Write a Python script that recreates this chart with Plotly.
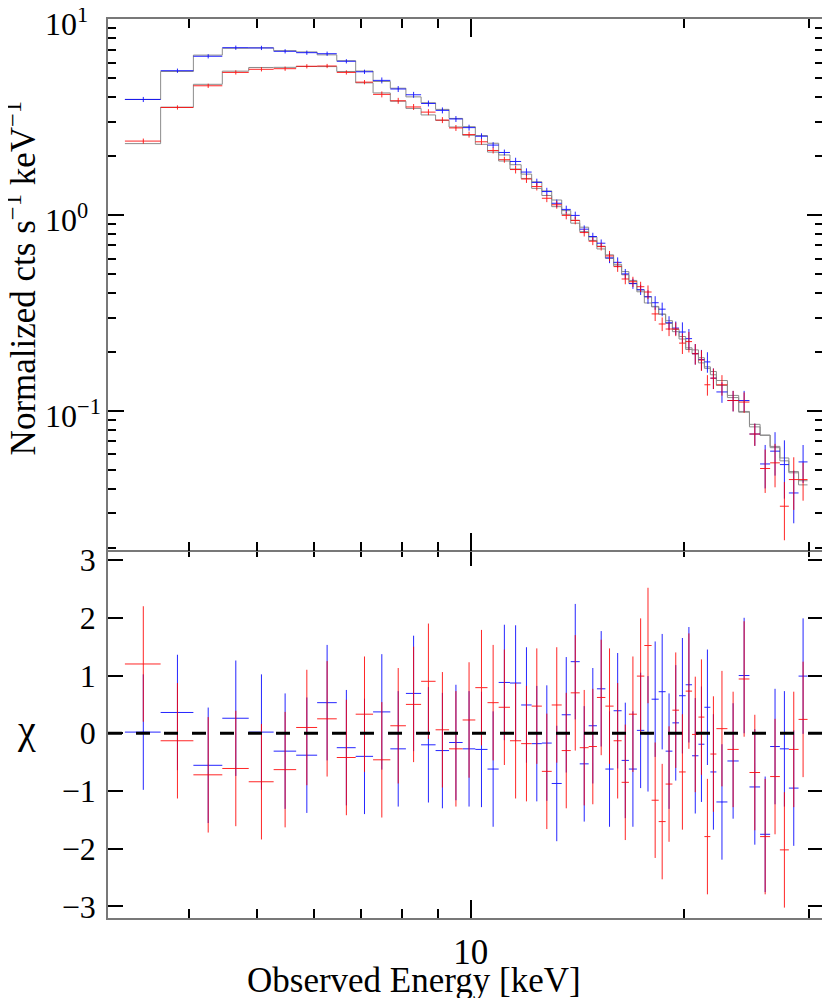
import math
import plotly.graph_objects as go

# energy bin edges (keV), shared by both spectra
edges = [3.25, 3.65, 4.06, 4.46, 4.86, 5.27, 5.67, 6.07, 6.47, 6.88,
         7.28, 7.70, 8.10, 8.51, 8.92, 9.32, 9.74, 10.15, 10.56, 10.95,
         11.36, 11.78, 12.19, 12.60, 13.01, 13.44, 13.84, 14.25, 14.67, 15.07,
         15.49, 15.91, 16.33, 16.72, 17.16, 17.58, 18.00, 18.42, 18.84, 19.26,
         19.68, 20.11, 20.53, 20.96, 21.37, 21.79, 22.22, 23.03, 23.89, 24.74,
         25.61, 26.46, 27.31, 28.12, 29.02, 29.88]

# normalized counts s^-1 keV^-1
blue_rate = [3.90, 5.47, 6.48, 7.17, 7.15, 6.87, 6.76, 6.68, 6.11, 5.40,
             4.88, 4.41, 4.12, 3.72, 3.43, 3.10, 2.80, 2.53, 2.28, 2.09,
             1.88, 1.66, 1.47, 1.32, 1.15, 1.07, 0.997, 0.848, 0.778, 0.719,
             0.605, 0.574, 0.501, 0.447, 0.416, 0.383, 0.357, 0.331, 0.282, 0.265,
             0.253, 0.234, 0.196, 0.183, 0.178, 0.147, 0.125, 0.113, 0.113, 0.0762,
             0.0536, 0.0623, 0.0532, 0.0381, 0.0549]
blue_model = [3.90, 5.42, 6.57, 7.12, 7.15, 6.92, 6.82, 6.59, 6.15, 5.45,
              4.82, 4.45, 4.02, 3.75, 3.47, 3.12, 2.83, 2.55, 2.33, 2.03,
              1.81, 1.62, 1.48, 1.33, 1.195, 1.055, 0.941, 0.868, 0.773, 0.694,
              0.627, 0.561, 0.515, 0.464, 0.415, 0.383, 0.340, 0.312, 0.289, 0.261,
              0.233, 0.210, 0.205, 0.187, 0.168, 0.159, 0.143, 0.120, 0.0994, 0.0854,
              0.0750, 0.0659, 0.0575, 0.0490, 0.0440]
red_rate = [2.39, 3.55, 4.58, 5.36, 5.56, 5.60, 5.76, 5.78, 5.36, 4.78,
            4.14, 3.84, 3.57, 3.36, 3.06, 2.79, 2.58, 2.37, 2.14, 1.92,
            1.71, 1.53, 1.40, 1.22, 1.13, 0.997, 0.940, 0.815, 0.736, 0.691,
            0.619, 0.546, 0.472, 0.457, 0.431, 0.405, 0.313, 0.278, 0.262, 0.262,
            0.222, 0.226, 0.196, 0.182, 0.136, 0.147, 0.136, 0.113, 0.111, 0.0762,
            0.0508, 0.0543, 0.0326, 0.0446, 0.0446]
red_model = [2.32, 3.56, 4.66, 5.44, 5.68, 5.69, 5.75, 5.74, 5.42, 4.74,
             4.21, 3.82, 3.51, 3.25, 3.05, 2.82, 2.56, 2.30, 2.10, 1.89,
             1.72, 1.54, 1.37, 1.26, 1.105, 1.01, 0.910, 0.824, 0.743, 0.672,
             0.602, 0.550, 0.496, 0.448, 0.406, 0.356, 0.342, 0.312, 0.280, 0.254,
             0.240, 0.206, 0.196, 0.176, 0.165, 0.153, 0.135, 0.117, 0.0985, 0.0829,
             0.0753, 0.0649, 0.0556, 0.0483, 0.0419]
# fractional 1-sigma errors per bin
rel_err = [0.03, 0.025, 0.025, 0.025, 0.025, 0.025, 0.025, 0.025, 0.025, 0.025,
           0.035, 0.035, 0.035, 0.035, 0.035, 0.035, 0.035, 0.035, 0.035, 0.035,
           0.045, 0.045, 0.045, 0.045, 0.045, 0.045, 0.045, 0.045, 0.045, 0.045,
           0.06, 0.06, 0.06, 0.06, 0.06, 0.08, 0.08, 0.08, 0.08, 0.08,
           0.12, 0.12, 0.12, 0.12, 0.12, 0.12, 0.12, 0.12, 0.12, 0.13,
           0.25, 0.25, 0.33, 0.30, 0.22]

# residuals (chi)
blue_chi = [0.02, 0.36, -0.555, 0.26, 0.02, -0.31, -0.38, 0.53, -0.25, -0.40,
            0.37, -0.27, 0.69, -0.20, -0.30, -0.16, -0.27, -0.28, -0.62, 0.88,
            0.87, 0.49, -0.18, -0.17, -0.87, 0.32, 1.24, -0.53, 0.13, 0.77,
            -0.62, 0.39, -0.47, -0.62, 0.05, -0.01, 0.59, 0.72, -0.31, 0.18,
            0.65, 0.84, -0.39, -0.19, 0.45, -0.67, -1.19, -0.48, 1.00, -0.93,
            -1.75, -0.23, -0.27, -0.95, 0.99]
red_chi = [1.20, -0.13, -0.72, -0.61, -0.84, -0.63, 0.10, 0.25, -0.42, 0.33,
           -0.46, 0.13, 0.50, 0.90, 0.06, -0.27, 0.23, 0.79, 0.53, 0.45,
           -0.13, -0.18, 0.47, -0.66, 0.49, -0.30, 0.70, -0.25, -0.23, 0.62,
           0.47, -0.13, -0.85, 0.33, 0.99, 1.52, -1.16, -1.53, -0.88, 0.40,
           -0.67, 0.73, -0.02, 0.28, -1.79, -0.36, 0.08, -0.28, 0.94, -0.68,
           -1.79, -0.75, -2.02, -0.28, 0.24]

# top panel y tick labels (left aligned, as in the original)
rate_ticks = [0.1, 1, 10]
rate_tick_text = ['10<sup>\u22121</sup>', '10<sup>0</sup>', '10<sup>1</sup>']

BLUE = 'rgb(0,0,255)'
RED = 'rgb(255,0,0)'
MODEL_GRAY = 'rgb(140,140,140)'
AXIS_GRAY = 'rgb(120,120,120)'
FONT = 'Liberation Serif, Times New Roman, serif'

lo = edges[:-1]
hi = edges[1:]
mid = [(a + b) / 2 for a, b in zip(lo, hi)]
xerr_minus = [m - a for m, a in zip(mid, lo)]
xerr_plus = [b - m for m, b in zip(mid, hi)]

fig = go.Figure()

# model step lines (top panel)
for model in (blue_model, red_model):
    fig.add_trace(go.Scatter(
        x=edges, y=model + [model[-1]],
        mode='lines',
        line=dict(color=MODEL_GRAY, width=1, shape='hv'),
        xaxis='x2', yaxis='y2', hoverinfo='skip'
    ))

# data crosses (top) and residuals (bottom)
for rate, chi, color in ((blue_rate, blue_chi, BLUE), (red_rate, red_chi, RED)):
    sig = [r * f for r, f in zip(rate, rel_err)]
    fig.add_trace(go.Scatter(
        x=mid, y=rate, mode='markers',
        marker=dict(size=1, color=color),
        opacity=0.85,
        error_x=dict(type='data', symmetric=False, array=xerr_plus,
                     arrayminus=xerr_minus, color=color, thickness=1, width=0),
        error_y=dict(type='data', array=sig, color=color, thickness=1, width=0),
        xaxis='x2', yaxis='y2'
    ))
    fig.add_trace(go.Scatter(
        x=mid, y=chi, mode='markers',
        marker=dict(size=1, color=color),
        opacity=0.85,
        error_x=dict(type='data', symmetric=False, array=xerr_plus,
                     arrayminus=xerr_minus, color=color, thickness=1, width=0),
        error_y=dict(type='constant', value=1, color=color, thickness=1, width=0),
        xaxis='x', yaxis='y'
    ))

x_range = [0.488, 1.4972]
split = 0.411

axis_common = dict(
    showline=True, linecolor=AXIS_GRAY, linewidth=1.5, mirror='allticks',
    ticks='inside', tickcolor='black', tickwidth=1.5,
    showgrid=False, zeroline=False, automargin=False
)
x_minor = dict(tickmode='array', tickvals=[4, 5, 6, 7, 8, 9, 20, 30],
               ticks='inside', ticklen=9, tickcolor='black', tickwidth=1.5)

annotations = [
    dict(text=t, xref='paper', yref='y2', x=-0.0913, y=math.log10(v),
         xanchor='left', yanchor='middle', yshift=-3, showarrow=False,
         font=dict(size=32))
    for v, t in zip(rate_ticks, rate_tick_text)
]
annotations += [
    dict(text='Normalized cts s<sup>\u22121</sup> keV<sup>\u22121</sup>',
         textangle=-90, xref='paper', yref='paper', x=-0.121, y=0.712,
         xanchor='center', yanchor='middle', showarrow=False,
         font=dict(size=35)),
    dict(text='\u03c7', xref='paper', yref='paper', x=-0.114, y=0.21,
         xanchor='center', yanchor='middle', showarrow=False,
         font=dict(size=40)),
    dict(text='Observed Energy [keV]', xref='paper', yref='paper',
         x=0.428, y=-0.069, xanchor='center', yanchor='middle',
         showarrow=False, font=dict(size=35)),
]

# page body keeps an 8px margin, so the figure is drawn 8px smaller
fig.update_layout(
    template='none',
    width=822, height=990,
    margin=dict(l=100, r=7, t=11, b=80),
    paper_bgcolor='white', plot_bgcolor='white',
    font=dict(family=FONT, size=30, color='black'),
    showlegend=False,
    xaxis=dict(
        type='log', range=x_range, domain=[0, 1], anchor='y',
        tickmode='array', tickvals=[10], ticktext=['10'], ticklen=18,
        tickfont=dict(size=35), minor=x_minor,
        ticklabelstandoff=2,
        **axis_common
    ),
    xaxis2=dict(
        type='log', range=x_range, domain=[0, 1], anchor='y2', matches='x',
        tickmode='array', tickvals=[10], showticklabels=False, ticklen=18,
        minor=x_minor,
        **axis_common
    ),
    yaxis=dict(
        domain=[0, split], range=[-3.2, 3.2], anchor='x',
        tickmode='array', tickvals=[-3, -2, -1, 0, 1, 2, 3],
        ticktext=['\u22123', '\u22122', '\u22121', '0', '1', '2', '3'],
        tickfont=dict(size=32),
        ticklen=15, ticklabelstandoff=4,
        **axis_common
    ),
    yaxis2=dict(
        type='log', domain=[split - 0.002, 1], range=[-1.712, 1.002], anchor='x2',
        tickmode='array', tickvals=rate_ticks, showticklabels=False,
        ticklen=16,
        minor=dict(tickmode='array',
                   tickvals=[0.02, 0.03, 0.04, 0.05, 0.06, 0.07, 0.08, 0.09,
                             0.2, 0.3, 0.4, 0.5, 0.6, 0.7, 0.8, 0.9,
                             2, 3, 4, 5, 6, 7, 8, 9],
                   ticks='inside', ticklen=8, tickcolor='black', tickwidth=1.5),
        **axis_common
    ),
    shapes=[dict(
        type='line', xref='paper', yref='y', x0=0, x1=1, y0=0, y1=0,
        line=dict(color='black', width=3, dash='14px,14px')
    )],
    annotations=annotations
)

fig.write_html("out.html")
